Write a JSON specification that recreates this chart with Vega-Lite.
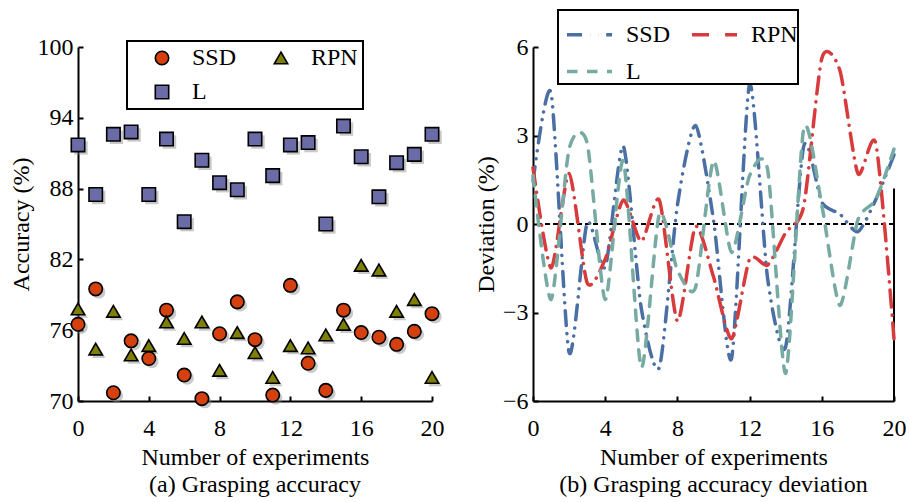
{
  "$schema": "https://vega.github.io/schema/vega-lite/v6.json",
  "background": "white",
  "padding": {"left": 9, "top": 9, "right": 0, "bottom": 0},
  "bounds": "flush",
  "spacing": 101,
  "resolve": {"legend": {"shape": "independent", "fill": "independent", "stroke": "independent", "color": "independent", "strokeDash": "independent"}},
  "config": {
    "font": "Liberation Serif, Times New Roman, serif",
    "view": {"stroke": null},
    "axis": {
      "domainColor": "black", "domainWidth": 2, "tickColor": "black", "tickWidth": 2, "tickSize": -5,
      "labelFont": "Liberation Serif, Times New Roman, serif", "labelFontSize": 24, "labelColor": "black", "labelFlush": false,
      "titleFont": "Liberation Serif, Times New Roman, serif", "titleFontSize": 24, "titleFontWeight": "normal", "titleColor": "black",
      "grid": false
    },
    "axisX": {"labelPadding": 20, "titlePadding": 5},
    "axisY": {"labelPadding": 10, "titlePadding": 4},
    "legend": {
      "labelFont": "Liberation Serif, Times New Roman, serif", "labelFontSize": 24, "labelFontWeight": "normal", "labelColor": "black",
      "strokeColor": "black", "strokeWidth": 2, "fillColor": "white"
    },
    "title": {"font": "Liberation Serif, Times New Roman, serif", "fontSize": 24, "fontWeight": "normal", "color": "black"}
  },
  "datasets": {
    "acc": [
      {"x":0,"method":"SSD","acc":76.5},{"x":1,"method":"SSD","acc":79.5},{"x":2,"method":"SSD","acc":70.7},{"x":3,"method":"SSD","acc":75.1},{"x":4,"method":"SSD","acc":73.6},{"x":5,"method":"SSD","acc":77.7},{"x":6,"method":"SSD","acc":72.2},{"x":7,"method":"SSD","acc":70.2},{"x":8,"method":"SSD","acc":75.7},{"x":9,"method":"SSD","acc":78.4},{"x":10,"method":"SSD","acc":75.2},{"x":11,"method":"SSD","acc":70.5},{"x":12,"method":"SSD","acc":79.8},{"x":13,"method":"SSD","acc":73.2},{"x":14,"method":"SSD","acc":70.9},{"x":15,"method":"SSD","acc":77.7},{"x":16,"method":"SSD","acc":75.8},{"x":17,"method":"SSD","acc":75.4},{"x":18,"method":"SSD","acc":74.8},{"x":19,"method":"SSD","acc":75.9},{"x":20,"method":"SSD","acc":77.4},
      {"x":0,"method":"RPN","acc":77.8},{"x":1,"method":"RPN","acc":74.4},{"x":2,"method":"RPN","acc":77.6},{"x":3,"method":"RPN","acc":73.9},{"x":4,"method":"RPN","acc":74.7},{"x":5,"method":"RPN","acc":76.7},{"x":6,"method":"RPN","acc":75.3},{"x":7,"method":"RPN","acc":76.7},{"x":8,"method":"RPN","acc":72.6},{"x":9,"method":"RPN","acc":75.8},{"x":10,"method":"RPN","acc":74.1},{"x":11,"method":"RPN","acc":72.0},{"x":12,"method":"RPN","acc":74.7},{"x":13,"method":"RPN","acc":74.5},{"x":14,"method":"RPN","acc":75.6},{"x":15,"method":"RPN","acc":76.5},{"x":16,"method":"RPN","acc":81.5},{"x":17,"method":"RPN","acc":81.1},{"x":18,"method":"RPN","acc":77.6},{"x":19,"method":"RPN","acc":78.6},{"x":20,"method":"RPN","acc":72.0},
      {"x":0,"method":"L","acc":91.7},{"x":1,"method":"L","acc":87.5},{"x":2,"method":"L","acc":92.6},{"x":3,"method":"L","acc":92.8},{"x":4,"method":"L","acc":87.5},{"x":5,"method":"L","acc":92.2},{"x":6,"method":"L","acc":85.2},{"x":7,"method":"L","acc":90.4},{"x":8,"method":"L","acc":88.5},{"x":9,"method":"L","acc":87.9},{"x":10,"method":"L","acc":92.2},{"x":11,"method":"L","acc":89.1},{"x":12,"method":"L","acc":91.7},{"x":13,"method":"L","acc":91.9},{"x":14,"method":"L","acc":85.0},{"x":15,"method":"L","acc":93.3},{"x":16,"method":"L","acc":90.7},{"x":17,"method":"L","acc":87.3},{"x":18,"method":"L","acc":90.2},{"x":19,"method":"L","acc":90.9},{"x":20,"method":"L","acc":92.6}
    ],
    "dev": [
      {"x":0,"method":"SSD","dev":1.44},{"x":1,"method":"SSD","dev":4.44},{"x":2,"method":"SSD","dev":-4.36},{"x":3,"method":"SSD","dev":0.04},{"x":4,"method":"SSD","dev":-1.46},{"x":5,"method":"SSD","dev":2.64},{"x":6,"method":"SSD","dev":-2.86},{"x":7,"method":"SSD","dev":-4.86},{"x":8,"method":"SSD","dev":0.64},{"x":9,"method":"SSD","dev":3.34},{"x":10,"method":"SSD","dev":0.14},{"x":11,"method":"SSD","dev":-4.56},{"x":12,"method":"SSD","dev":4.74},{"x":13,"method":"SSD","dev":-1.86},{"x":14,"method":"SSD","dev":-4.16},{"x":15,"method":"SSD","dev":2.64},{"x":16,"method":"SSD","dev":0.74},{"x":17,"method":"SSD","dev":0.34},{"x":18,"method":"SSD","dev":-0.26},{"x":19,"method":"SSD","dev":0.84},{"x":20,"method":"SSD","dev":2.34},
      {"x":0,"method":"RPN","dev":1.91},{"x":1,"method":"RPN","dev":-1.49},{"x":2,"method":"RPN","dev":1.71},{"x":3,"method":"RPN","dev":-1.99},{"x":4,"method":"RPN","dev":-1.19},{"x":5,"method":"RPN","dev":0.81},{"x":6,"method":"RPN","dev":-0.59},{"x":7,"method":"RPN","dev":0.81},{"x":8,"method":"RPN","dev":-3.29},{"x":9,"method":"RPN","dev":-0.09},{"x":10,"method":"RPN","dev":-1.79},{"x":11,"method":"RPN","dev":-3.89},{"x":12,"method":"RPN","dev":-1.19},{"x":13,"method":"RPN","dev":-1.39},{"x":14,"method":"RPN","dev":-0.29},{"x":15,"method":"RPN","dev":0.61},{"x":16,"method":"RPN","dev":5.61},{"x":17,"method":"RPN","dev":5.21},{"x":18,"method":"RPN","dev":1.71},{"x":19,"method":"RPN","dev":2.71},{"x":20,"method":"RPN","dev":-3.89},
      {"x":0,"method":"L","dev":1.64},{"x":1,"method":"L","dev":-2.56},{"x":2,"method":"L","dev":2.54},{"x":3,"method":"L","dev":2.74},{"x":4,"method":"L","dev":-2.56},{"x":5,"method":"L","dev":2.14},{"x":6,"method":"L","dev":-4.86},{"x":7,"method":"L","dev":0.34},{"x":8,"method":"L","dev":-1.56},{"x":9,"method":"L","dev":-2.16},{"x":10,"method":"L","dev":2.14},{"x":11,"method":"L","dev":-0.96},{"x":12,"method":"L","dev":1.64},{"x":13,"method":"L","dev":1.84},{"x":14,"method":"L","dev":-5.06},{"x":15,"method":"L","dev":3.24},{"x":16,"method":"L","dev":0.64},{"x":17,"method":"L","dev":-2.76},{"x":18,"method":"L","dev":0.14},{"x":19,"method":"L","dev":0.84},{"x":20,"method":"L","dev":2.54}
    ]
  },
  "hconcat": [
    {
      "width": 354,
      "height": 354,
      "title": {"text": "(a) Grasping accuracy", "orient": "bottom", "offset": 4},
      "data": {"name": "acc"},
      "encoding": {
        "x": {"field": "x", "type": "quantitative", "title": "Number of experiments", "scale": {"domain": [0, 20], "nice": false}, "axis": {"values": [0, 4, 8, 12, 16, 20]}},
        "y": {"field": "acc", "type": "quantitative", "title": "Accuracy (%)", "scale": {"domain": [70, 100], "nice": false, "zero": false}, "axis": {"values": [70, 76, 82, 88, 94, 100]}},
        "shape": {"field": "method", "type": "nominal", "title": null, "scale": {"domain": ["SSD", "RPN", "L"], "range": ["circle", "triangle-up", "square"]},
          "legend": {"orient": "none", "legendX": 49, "legendY": -6, "columns": 2, "direction": "horizontal", "padding": 5, "symbolOffset": 18, "labelOffset": 18, "columnPadding": 14, "rowPadding": 10, "symbolSize": 180, "symbolOpacity": 1, "symbolStrokeColor": "black", "symbolStrokeWidth": 1.6}}
      },
      "layer": [
        {
          "mark": {"type": "point", "filled": true, "color": "#888888", "opacity": 0.45, "size": 180, "xOffset": 3, "yOffset": 3, "clip": false}
        },
        {
          "mark": {"type": "point", "filled": true, "strokeWidth": 1.6, "opacity": 1, "size": 180, "clip": false},
          "encoding": {
            "fill": {"field": "method", "type": "nominal", "title": null, "scale": {"domain": ["SSD", "RPN", "L"], "range": ["#d4400e", "#7f7f05", "#6b6ba8"]}},
            "stroke": {"field": "method", "type": "nominal", "title": null, "scale": {"domain": ["SSD", "RPN", "L"], "range": ["black", "black", "black"]}}
          }
        }
      ]
    },
    {
      "width": 361,
      "height": 354,
      "title": {"text": "(b) Grasping accuracy deviation", "orient": "bottom", "offset": 4},
      "layer": [
        {
          "data": {"values": [{"z": 0}]},
          "mark": {"type": "rule", "color": "black", "strokeWidth": 2, "strokeDash": [5, 3]},
          "encoding": {"y": {"field": "z", "type": "quantitative"}}
        },
        {
          "data": {"values": [{"xr": 20, "ylo": -6, "yhi": 1.2}]},
          "mark": {"type": "rule", "color": "black", "strokeWidth": 2},
          "encoding": {
            "x": {"field": "xr", "type": "quantitative"},
            "y": {"field": "ylo", "type": "quantitative"},
            "y2": {"field": "yhi"}
          }
        },
        {
          "data": {"name": "dev"},
          "mark": {"type": "line", "interpolate": "cardinal", "tension": 0.3, "strokeWidth": 3.5, "strokeCap": "round", "clip": false},
          "encoding": {
            "x": {"field": "x", "type": "quantitative", "title": "Number of experiments", "scale": {"domain": [0, 20], "nice": false}, "axis": {"values": [0, 4, 8, 12, 16, 20]}},
            "y": {"field": "dev", "type": "quantitative", "title": "Deviation (%)", "scale": {"domain": [-6, 6], "nice": false}, "axis": {"values": [-6, -3, 0, 3, 6]}},
            "color": {"field": "method", "type": "nominal", "title": null, "scale": {"domain": ["SSD", "RPN", "L"], "range": ["#4a6fa5", "#d83b3b", "#76aaa2"]},
              "legend": {"orient": "none", "legendX": 25, "legendY": -37, "columns": 2, "direction": "horizontal", "padding": 0, "symbolType": "stroke", "symbolSize": 2025, "symbolStrokeWidth": 3.5, "symbolOffset": 7, "labelOffset": 12, "columnPadding": 12, "rowPadding": 0}},
            "strokeDash": {"field": "method", "type": "nominal", "title": null, "scale": {"domain": ["SSD", "RPN", "L"], "range": [[15, 8, 0.1, 8, 0.1, 8], [17, 8, 0.1, 8], [10.5, 9.5]]}},
            "order": {"field": "x", "type": "quantitative"}
          }
        }
      ]
    }
  ]
}
